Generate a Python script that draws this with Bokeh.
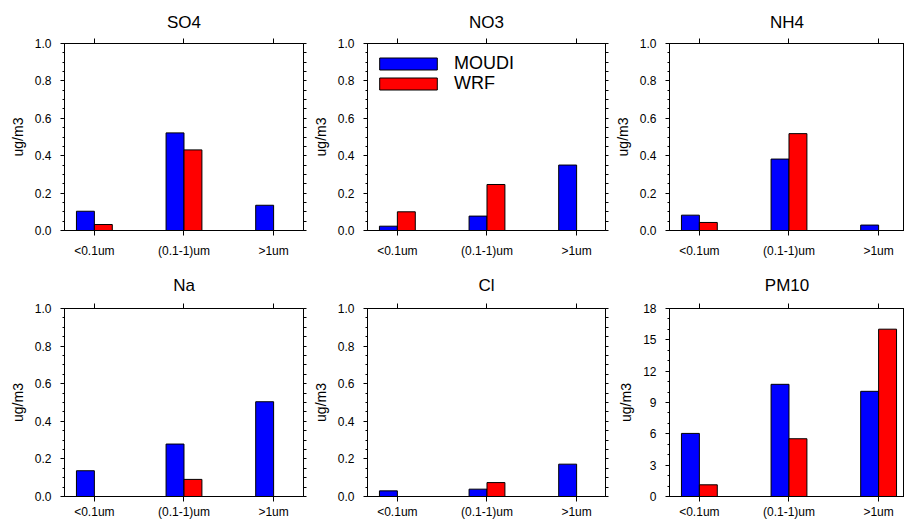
import numpy as np
from bokeh.plotting import figure
from bokeh.layouts import column, row
from bokeh.models import (Range1d, FixedTicker, LinearAxis, Legend, LegendItem,
                          PrintfTickFormatter)
from bokeh.embed import file_html
from bokeh.resources import INLINE

# ---------------- data ----------------
categories = ["<0.1um", "(0.1-1)um", ">1um"]
positions = [1, 2, 3]

so4_moudi = [0.103, 0.522, 0.135]
so4_wrf = [0.032, 0.431, 0.0]
no3_moudi = [0.023, 0.077, 0.350]
no3_wrf = [0.100, 0.246, 0.0]
nh4_moudi = [0.082, 0.382, 0.029]
nh4_wrf = [0.043, 0.518, 0.0]
na_moudi = [0.137, 0.279, 0.504]
na_wrf = [0.0, 0.091, 0.0]
cl_moudi = [0.030, 0.039, 0.172]
cl_wrf = [0.0, 0.074, 0.0]
pm10_moudi = [6.04, 10.74, 10.07]
pm10_wrf = [1.12, 5.53, 16.02]

ug_ticks = [0.0, 0.2, 0.4, 0.6, 0.8, 1.0]
pm_ticks = [0, 3, 6, 9, 12, 15, 18]

FONT = "Liberation Sans"
BLUE = "#0000ff"
RED = "#ff0000"
PX_PER_UNIT = 239 / 2.6667


def make_panel(title, moudi, wrf, yticks, nminor, fmt, lb, fw, rb, tb, fh, bb,
               xstand, tstand, right_axis=True, legend=False):
    x0 = 0.6667
    x1 = x0 + fw / PX_PER_UNIT
    p = figure(width=lb + fw + rb, height=tb + fh + bb,
               x_range=Range1d(x0, x1), y_range=Range1d(yticks[0], yticks[-1]),
               min_border_left=lb, min_border_right=rb,
               min_border_top=tb, min_border_bottom=bb,
               output_backend="svg", toolbar_location=None)
    p.xgrid.visible = False
    p.ygrid.visible = False
    p.outline_line_color = "black"
    p.outline_line_width = 1
    p.background_fill_color = "white"
    p.border_fill_color = "white"

    # title
    p.title.text = title
    p.title.align = "center"
    p.title.text_font = FONT
    p.title.text_font_size = "17px"
    p.title.text_font_style = "normal"
    p.title.text_color = "black"
    p.title.standoff = tstand

    pos = np.array(positions, dtype=float)
    r1 = p.vbar(x=pos - 0.1, top=moudi, width=0.2, fill_color=BLUE,
                line_color="black", line_width=1)
    r2 = p.vbar(x=pos + 0.1, top=wrf, width=0.2, fill_color=RED,
                line_color="black", line_width=1)

    step = yticks[1] - yticks[0]
    minor_all = [yticks[0] + i * step / (nminor + 1)
                 for i in range((len(yticks) - 1) * (nminor + 1) + 1)]

    # bottom x axis
    xa = p.xaxis[0]
    xa.ticker = FixedTicker(ticks=positions, minor_ticks=[])
    xa.major_label_overrides = {k: v for k, v in zip(positions, categories)}
    xa.major_label_text_font = FONT
    xa.major_label_text_font_size = "12px"
    xa.major_label_text_color = "black"
    xa.major_label_standoff = xstand
    xa.major_tick_in = 0
    xa.major_tick_out = 5
    xa.axis_line_color = "black"
    xa.major_tick_line_color = "black"

    # left y axis
    ya = p.yaxis[0]
    ya.ticker = FixedTicker(ticks=yticks, minor_ticks=minor_all)
    ya.formatter = PrintfTickFormatter(format=fmt)
    ya.major_label_text_font = FONT
    ya.major_label_text_font_size = "12px"
    ya.major_label_text_color = "black"
    ya.major_label_standoff = 9
    ya.major_tick_in = 0
    ya.major_tick_out = 4
    ya.minor_tick_in = 0
    ya.minor_tick_out = 2
    ya.axis_line_color = "black"
    ya.axis_label = "ug/m3"
    ya.axis_label_text_font = FONT
    ya.axis_label_text_font_size = "14px"
    ya.axis_label_text_font_style = "normal"
    ya.axis_label_text_color = "black"
    ya.axis_label_standoff = 6

    # top x axis (tick marks only, drawn as unlabeled minor ticks)
    ta = LinearAxis(ticker=FixedTicker(ticks=[], minor_ticks=positions),
                    major_tick_in=0, major_tick_out=0,
                    minor_tick_in=0, minor_tick_out=5,
                    major_label_standoff=0, axis_line_color="black")
    p.add_layout(ta, "above")

    # right y axis (tick marks only)
    if right_axis:
        ra = LinearAxis(ticker=FixedTicker(ticks=[], minor_ticks=minor_all),
                        major_tick_in=0, major_tick_out=0,
                        minor_tick_in=0, minor_tick_out=3,
                        major_label_standoff=0, axis_line_color="black")
        p.add_layout(ra, "right")

    if legend:
        for r, lab, vy in ((r1, "MOUDI", 156), (r2, "WRF", 136)):
            lg = Legend(items=[LegendItem(label=lab, renderers=[r])],
                        location=(5, vy), padding=0, margin=0, spacing=0,
                        glyph_width=72, glyph_height=15, label_height=15,
                        label_standoff=10, label_text_font=FONT,
                        label_text_font_size="18px", label_text_color="black",
                        border_line_color=None, background_fill_alpha=0)
            p.add_layout(lg)
    return p


TOP = dict(tb=43, fh=187, bb=35, xstand=8, tstand=14)
BOT = dict(tb=43, fh=188, bb=25, xstand=3, tstand=17)
C1 = dict(lb=64, fw=239, rb=6)
C2 = dict(lb=58, fw=238, rb=6)
C3 = dict(lb=58, fw=235, rb=0, right_axis=False)

p1 = make_panel("SO4", so4_moudi, so4_wrf, ug_ticks, 3, "%.1f", **C1, **TOP)
p2 = make_panel("NO3", no3_moudi, no3_wrf, ug_ticks, 3, "%.1f", **C2, **TOP, legend=True)
p3 = make_panel("NH4", nh4_moudi, nh4_wrf, ug_ticks, 3, "%.1f", **C3, **TOP)
p4 = make_panel("Na", na_moudi, na_wrf, ug_ticks, 3, "%.1f", **C1, **BOT)
p5 = make_panel("Cl", cl_moudi, cl_wrf, ug_ticks, 3, "%.1f", **C2, **BOT)
p6 = make_panel("PM10", pm10_moudi, pm10_wrf, pm_ticks, 2, "%d", **C3, **BOT)

layout = column(row(p1, p2, p3, spacing=0), row(p4, p5, p6, spacing=0), spacing=0)

with open("out.html", "w") as f:
    f.write(file_html(layout, INLINE, title="chart"))
